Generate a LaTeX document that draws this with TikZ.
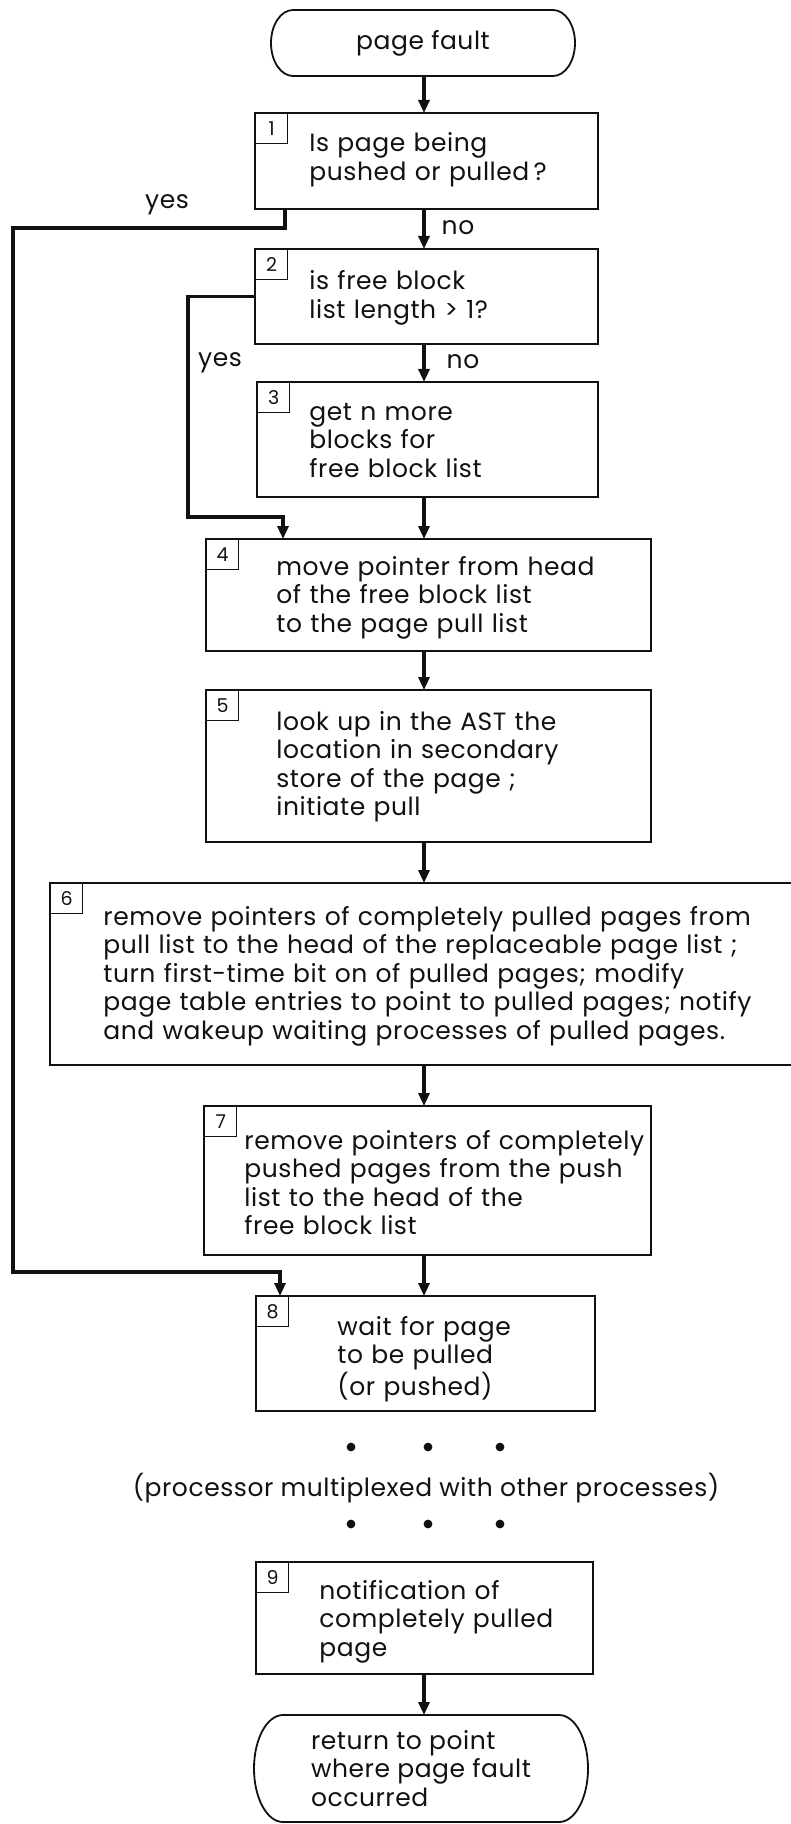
\documentclass[tikz,border=0pt]{standalone}
\usepackage{fontspec}
\setmainfont[LetterSpace=2.2]{Poppins}
\usetikzlibrary{arrows.meta,positioning,calc}
\definecolor{FaultInk}{HTML}{111111}
\newcommand{\flowfont}{\fontsize{12.5}{14.25}\selectfont}
\tikzset{
  stepbox/.style={draw=FaultInk, line width=0.9pt, inner sep=0pt, outer sep=0pt},
  numbox/.style={draw=FaultInk, line width=0.7pt, anchor=north west, inner sep=0pt,
                 minimum width=16pt, minimum height=15pt,
                 font=\fontsize{9.5}{10}\selectfont\color{FaultInk}},
  steptext/.style={anchor=base west, align=left, text width=370pt, inner sep=0pt,
                   font=\flowfont\color{FaultInk}},
  termbox/.style={inner sep=0pt, outer sep=0pt, align=left, font=\flowfont\color{FaultInk}},
  termline/.style={draw=FaultInk, line width=0.9pt},
  flow/.style={-{Triangle[length=6.5pt,width=5.5pt]}, line width=1.6pt, FaultInk},
  branch/.style={font=\flowfont\color{FaultInk}},
}

\begin{document}
\begin{tikzpicture}[x=0.5pt, y=-0.5pt]
  \useasboundingbox (0,0) rectangle (791,1824);

  % main axis and rails
  \coordinate (axis) at (424,0);
  \coordinate (railtop) at (13,228);
  \coordinate (railbot) at (280,1272);
  \coordinate (rail2) at (188,517);

  % terminals
  \node[termbox, minimum width=152pt, minimum height=33pt] (start) at (423,43) {page fault};
  \draw[termline] ([xshift=11pt]start.north west) -- ([xshift=-11pt]start.north east)
    arc[start angle=90, end angle=-90, x radius=11pt, y radius=16.5pt]
    -- ([xshift=11pt]start.south west)
    arc[start angle=270, end angle=90, x radius=11pt, y radius=16.5pt] -- cycle;

  \node[termbox, minimum width=167pt, minimum height=53.5pt] (stop) at (421,1768.5)
        {return to point\\where page fault\\occurred};
  \draw[termline] ([xshift=14.5pt]stop.north west) -- ([xshift=-14.5pt]stop.north east)
    arc[start angle=90, end angle=-90, x radius=14.5pt, y radius=26.75pt]
    -- ([xshift=14.5pt]stop.south west)
    arc[start angle=270, end angle=90, x radius=14.5pt, y radius=26.75pt] -- cycle;

  % step boxes
  \node[stepbox, minimum width=171.5pt, minimum height=48pt]   (b1) at (426.5,161) {};
  \node[stepbox, minimum width=171.5pt, minimum height=47.5pt] (b2) at (426.5,296.5) {};
  \node[stepbox, minimum width=170.5pt, minimum height=57.5pt] (b3) at (427.5,439.5) {};
  \node[stepbox, minimum width=222.5pt, minimum height=56pt]   (b4) at (428.5,595) {};
  \node[stepbox, minimum width=222.5pt, minimum height=76pt]   (b5) at (428.5,766) {};
  \node[stepbox, minimum width=385pt,   minimum height=91pt]   (b6) at (435,974) {};
  \node[stepbox, minimum width=223.5pt, minimum height=74.5pt] (b7) at (427.5,1180.5) {};
  \node[stepbox, minimum width=169.5pt, minimum height=57.5pt] (b8) at (425.5,1353.5) {};
  \node[stepbox, minimum width=168.5pt, minimum height=56pt]   (b9) at (424.5,1618) {};

  % step numbers
  \node[numbox] (n1) at (b1.north west) {1};
  \node[numbox] (n2) at (b2.north west) {2};
  \node[numbox] (n3) at (b3.north west) {3};
  \node[numbox] (n4) at (b4.north west) {4};
  \node[numbox] (n5) at (b5.north west) {5};
  \node[numbox] (n6) at (b6.north west) {6};
  \node[numbox] (n7) at (b7.north west) {7};
  \node[numbox] (n8) at (b8.north west) {8};
  \node[numbox] (n9) at (b9.north west) {9};

  % step texts
  \node[steptext] (t1) at (309,152) {Is page being\\pushed or pulled\,?};
  \node[steptext] (t2) at (309,290) {is free block\\list length > 1?};
  \node[steptext] (t3) at (309,420) {get n more\\blocks for\\free block list};
  \node[steptext] (t4) at (276,575) {move pointer from head\\of the free block list\\to the page pull list};
  \node[steptext] (t5) at (276,730) {look up in the AST the\\location in secondary\\store of the page ;\\initiate pull};
  \node[steptext] (t6) at (103,925) {remove pointers of completely pulled pages from\\pull list to the head of the replaceable page list ;\\turn first-time bit on of pulled pages; modify\\page table entries to point to pulled pages; notify\\and wakeup waiting processes of pulled pages.};
  \node[steptext] (t7) at (244,1149) {remove pointers of completely\\pushed pages from the push\\list to the head of the\\free block list};
  \node[steptext] (t8) at (337,1335) {wait for page\\to be pulled\\(or pushed)};
  \node[steptext] (t9) at (319,1599) {notification of\\completely pulled\\page};

  % branch labels
  \node[branch] (yes1) at (167,205) {yes};
  \node[branch] (no1)  at (458,228) {no};
  \node[branch] (yes2) at (220,363) {yes};
  \node[branch] (no2)  at (463,362) {no};

  % waiting
  \foreach \dy in {1447,1524}
    \foreach \dx in {351,428,500}
      \fill[FaultInk] (\dx,\dy) circle (2.2pt);
  \node[branch] (mux) at (426,1488) {(processor multiplexed with other processes)};

  % main flow
  \draw[flow] (start.south -| axis) -- (b1.north -| axis);
  \draw[flow] (b1.south -| axis) -- (b2.north -| axis);
  \draw[flow] (b2.south -| axis) -- (b3.north -| axis);
  \draw[flow] (b3.south -| axis) -- (b4.north -| axis);
  \draw[flow] (b4.south -| axis) -- (b5.north -| axis);
  \draw[flow] (b5.south -| axis) -- (b6.north -| axis);
  \draw[flow] (b6.south -| axis) -- (b7.north -| axis);
  \draw[flow] (b7.south -| axis) -- (b8.north -| axis);
  \draw[flow] (b9.south -| axis) -- (stop.north -| axis);

  % yes branches
  \draw[flow] ([xshift=15pt]b1.south west) |- (railtop) |- (railbot) -- (b8.north -| railbot);
  \draw[flow] (b2.west) -| (rail2) -| ([xshift=38.5pt]b4.north west);
\end{tikzpicture}
\end{document}
